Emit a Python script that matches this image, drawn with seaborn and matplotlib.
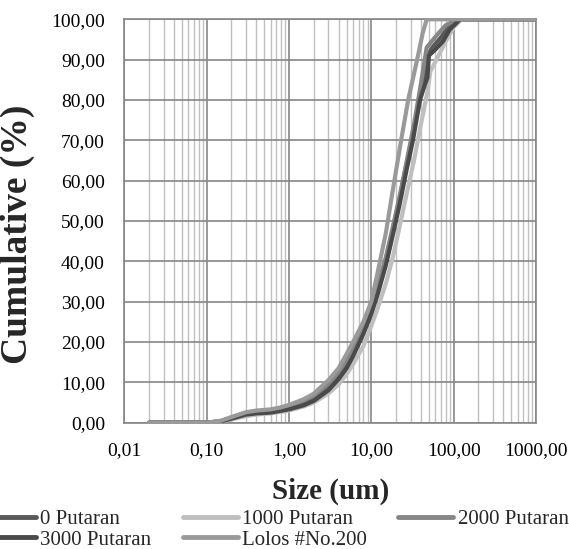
import numpy as np
import pandas as pd
import seaborn as sns
import matplotlib.pyplot as plt
from matplotlib.lines import Line2D
from matplotlib.ticker import FixedLocator, LogLocator, NullFormatter

# ---- data (size in um, cumulative %) ----
size_0 = [0.02, 0.05, 0.1, 0.15, 0.2, 0.3, 0.4, 0.6, 1.0, 1.5, 2, 3, 4, 5, 6, 8,
          10, 12, 15, 18, 22, 27, 33, 40, 46, 50, 55, 70, 90, 120, 1000]
cum_0 = [0, 0, 0, 0.4, 1.2, 2.3, 2.7, 3.0, 3.9, 5.1, 6.4, 9.2, 12.0, 15.0, 18.0, 23.5,
         28.5, 33.5, 40.5, 47.5, 55.5, 64.5, 73.0, 82.0, 86.5, 91.5, 93.0, 95.5, 98.5, 100, 100]

size_1000 = [0.02, 0.05, 0.1, 0.15, 0.2, 0.3, 0.4, 0.6, 1.0, 1.5, 2, 3, 4, 5, 6, 8,
             10, 12, 15, 18, 22, 27, 33, 40, 48, 52, 60, 80, 100, 125, 1000]
cum_1000 = [0, 0, 0, 0.2, 0.8, 1.6, 2.0, 2.3, 3.0, 4.0, 5.0, 7.2, 9.5, 12.0, 14.5, 19.0,
            24.0, 28.5, 34.5, 40.5, 48.5, 57.0, 65.0, 74.0, 82.0, 87.0, 89.5, 94.5, 98.0, 100, 100]

size_2000 = [0.02, 0.05, 0.1, 0.15, 0.2, 0.3, 0.4, 0.6, 1.0, 1.5, 2, 3, 4, 5, 6, 8,
             10, 12, 15, 18, 22, 27, 33, 40, 47, 62, 80, 110, 1000]
cum_2000 = [0, 0, 0, 0.4, 1.3, 2.4, 2.8, 3.1, 4.1, 5.4, 6.7, 9.6, 12.5, 15.5, 18.5, 24.0,
            29.0, 34.0, 41.0, 48.0, 56.0, 65.0, 74.0, 84.0, 93.0, 96.0, 98.5, 100, 100]

size_3000 = [0.02, 0.05, 0.1, 0.15, 0.2, 0.3, 0.4, 0.6, 1.0, 1.5, 2, 3, 4, 5, 6, 8,
             10, 12, 15, 18, 22, 27, 32, 39, 45, 48, 50, 60, 74, 90, 120, 1000]
cum_3000 = [0, 0, 0, 0.3, 1.0, 2.0, 2.3, 2.5, 3.3, 4.3, 5.4, 8.0, 10.8, 13.5, 16.5, 22.0,
            27.0, 32.0, 39.0, 46.0, 54.0, 63.0, 70.0, 80.0, 84.0, 85.5, 91.0, 92.5, 94.5, 97.5, 100, 100]

size_lolos = [0.02, 0.05, 0.1, 0.15, 0.2, 0.3, 0.4, 0.6, 0.8, 1.0, 1.5, 2, 3, 4, 5, 6, 8,
              10, 12, 15, 18, 23, 28, 36, 42, 47, 100, 1000]
cum_lolos = [0, 0, 0, 0.5, 1.4, 2.6, 3.0, 3.3, 3.8, 4.4, 5.8, 7.2, 10.5, 13.5, 17.0, 20.0, 25.0,
             30.0, 37.5, 47.0, 57.0, 70.0, 80.0, 90.0, 96.5, 100, 100, 100]

series_names = ['0 Putaran', '1000 Putaran', '2000 Putaran', '3000 Putaran', 'Lolos #No.200']
series_colors = ['#595959', '#bfbfbf', '#868686', '#4a4a4a', '#9a9a9a']

x_ticks = [0.01, 0.1, 1, 10, 100, 1000]
x_tick_labels = ['0,01', '0,10', '1,00', '10,00', '100,00', '1000,00']
y_ticks = [0, 10, 20, 30, 40, 50, 60, 70, 80, 90, 100]
y_tick_labels = ['0,00', '10,00', '20,00', '30,00', '40,00', '50,00',
                 '60,00', '70,00', '80,00', '90,00', '100,00']

sizes = [size_0, size_1000, size_2000, size_3000, size_lolos]
cums = [cum_0, cum_1000, cum_2000, cum_3000, cum_lolos]
frames = []
for name, s, c in zip(series_names, sizes, cums):
    frames.append(pd.DataFrame({'size': s, 'cum': c, 'series': name}))
df = pd.concat(frames, ignore_index=True)

sns.set_style('white')
plt.rcParams['font.family'] = ['Liberation Serif', 'DejaVu Serif']

fig = plt.figure(figsize=(5.69, 5.49), dpi=100)
ax = fig.add_axes([0.2186, 0.2301, 0.7234, 0.7348])

grid_major = '#868686'
grid_minor = '#c0c0c0'

sns.lineplot(data=df, x='size', y='cum', hue='series', hue_order=series_names,
             palette=dict(zip(series_names, series_colors)), estimator=None, sort=False,
             linewidth=3, legend=False, ax=ax, zorder=3)
for line in ax.get_lines():
    line.set_solid_capstyle('round')
    line.set_solid_joinstyle('round')

ax.set_xscale('log')
ax.set_xlim(0.01, 1000)
ax.set_ylim(0, 100)

ax.xaxis.set_major_locator(FixedLocator(x_ticks))
ax.set_xticklabels(x_tick_labels)
ax.xaxis.set_minor_locator(LogLocator(base=10, subs=np.arange(2, 10)))
ax.xaxis.set_minor_formatter(NullFormatter())
ax.set_yticks(y_ticks)
ax.set_yticklabels(y_tick_labels)

ax.grid(True, which='major', axis='both', color=grid_major, linewidth=1.2, zorder=1)
ax.grid(True, which='minor', axis='x', color=grid_minor, linewidth=1.0, zorder=0)
ax.set_axisbelow(True)

for sp in ax.spines.values():
    sp.set_color(grid_major)
    sp.set_linewidth(1.2)

ax.tick_params(axis='both', which='major', direction='out', length=4, width=1,
               color=grid_major, labelsize=14, labelcolor='black')
ax.tick_params(axis='x', which='major', pad=10)
ax.tick_params(axis='y', which='major', pad=10)
ax.tick_params(axis='x', which='minor', length=0)

ax.set_xlabel('Size (um)', fontsize=21, fontweight='bold')
ax.set_ylabel('Cumulative (%)', fontsize=27, fontweight='bold')
ax.xaxis.set_label_coords(0.5, -0.136)
ax.yaxis.set_label_coords(-0.217, 0.466)

# legend: column-first order gives rows 0/1000/2000 and 3000/Lolos
order = [0, 3, 1, 4, 2]
handles = [Line2D([0], [0], color=series_colors[i], lw=3.5, solid_capstyle='round') for i in order]
labels = [series_names[i] for i in order]
fig.legend(handles, labels, loc='upper left', bbox_to_anchor=(-0.0334, 0.072),
           bbox_transform=fig.transFigure, ncol=3, frameon=False, fontsize=15,
           handlelength=2.65, handletextpad=0.2, columnspacing=1.5,
           labelspacing=0.05, borderpad=0, borderaxespad=0)

fig.savefig('out.png', dpi=100)
